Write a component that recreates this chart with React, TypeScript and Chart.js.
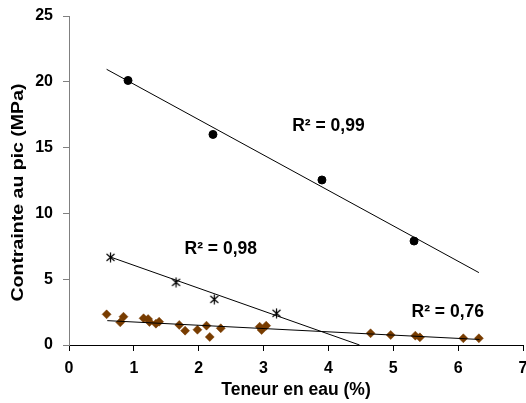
import React, { useEffect, useRef } from "react";
import { Chart, registerables } from "chart.js";
Chart.register(...registerables);

// Series: peak stress (MPa) vs water content (%)
const circleX = [0.91, 2.22, 3.9, 5.32];
const circleY = [20.1, 16.0, 12.54, 7.9];

const starX = [0.64, 1.65, 2.24, 3.2];
const starY = [6.66, 4.76, 3.47, 2.41];

const diamondX = [0.58, 0.79, 0.84, 1.15, 1.22, 1.24, 1.34, 1.39, 1.7, 1.79, 1.98, 2.12, 2.17, 2.34, 2.94, 2.97, 3.04, 4.65, 4.96, 5.34, 5.41, 6.08, 6.32];
const diamondY = [2.33, 1.72, 2.15, 2.03, 1.97, 1.75, 1.62, 1.77, 1.52, 1.09, 1.16, 1.47, 0.61, 1.27, 1.39, 1.14, 1.47, 0.89, 0.76, 0.71, 0.58, 0.51, 0.51];

// Trend lines (endpoints)
const trendCircleX = [0.58, 6.32];
const trendCircleY = [20.95, 5.5];
const trendStarX = [0.63, 4.48];
const trendStarY = [6.7, 0];
const trendDiamondX = [0.59, 6.33];
const trendDiamondY = [1.85, 0.42];

// R² annotations (data coordinates of text centre)
const r2Text = ["R² = 0,99", "R² = 0,98", "R² = 0,76"];
const r2X = [4.0, 2.34, 5.84];
const r2Y = [16.6, 7.3, 2.5];

const xMin = 0, xMax = 7, xStep = 1;
const yMin = 0, yMax = 25, yStep = 5;

const xTitle = "Teneur en eau (%)";
const yTitle = "Contrainte au pic (MPa)";

const FONT = "'Liberation Sans', Arial, sans-serif";
const BROWN = "#783c00";
const AREA = { left: 69, right: 523, top: 16, bottom: 345 };

const zip = (xs: number[], ys: number[]) => xs.map((x, i) => ({ x, y: ys[i] }));

function makeStar(): HTMLCanvasElement {
  const c = document.createElement("canvas");
  c.width = 11;
  c.height = 11;
  const g = c.getContext("2d")!;
  g.strokeStyle = "#000";
  g.lineWidth = 1.2;
  g.beginPath();
  g.moveTo(1.5, 2);
  g.lineTo(9.5, 9);
  g.moveTo(9.5, 2);
  g.lineTo(1.5, 9);
  g.moveTo(5.5, 0.5);
  g.lineTo(5.5, 10.5);
  g.stroke();
  return c;
}

const geomPlugin = {
  id: "geom",
  afterLayout(chart: any) {
    const xs = chart.scales.x;
    const ys = chart.scales.y;
    const { left: L, right: R, top: T, bottom: B } = AREA;
    xs.left = L; xs.right = R; xs.width = R - L;
    xs.top = B; xs.bottom = chart.height; xs.height = chart.height - B;
    ys.left = 0; ys.right = L; ys.width = L;
    ys.top = T; ys.bottom = B; ys.height = B - T;
    xs.configure();
    ys.configure();
    Object.assign(chart.chartArea, { left: L, right: R, top: T, bottom: B, width: R - L, height: B - T });
  },
};

const labelsPlugin = {
  id: "r2labels",
  afterDatasetsDraw(chart: any) {
    const { ctx, scales } = chart;
    ctx.save();
    ctx.font = `bold 17.5px ${FONT}`;
    ctx.fillStyle = "#000";
    ctx.textAlign = "center";
    ctx.textBaseline = "middle";
    r2Text.forEach((t, i) => {
      ctx.fillText(t, scales.x.getPixelForValue(r2X[i]), scales.y.getPixelForValue(r2Y[i]));
    });
    ctx.restore();
  },
  afterDraw(chart: any) {
    const { ctx, scales } = chart;
    const ys = scales.y;
    ctx.save();
    ctx.translate(19, (ys.top + ys.bottom) / 2 + 12);
    ctx.rotate(-Math.PI / 2);
    ctx.scale(1.22, 1);
    ctx.font = `bold 16px ${FONT}`;
    ctx.fillStyle = "#000";
    ctx.textAlign = "center";
    ctx.textBaseline = "middle";
    ctx.fillText(yTitle, 0, 0);
    ctx.restore();
  },
};

export default function App() {
  const ref = useRef<HTMLCanvasElement | null>(null);
  useEffect(() => {
    if (!ref.current) return;
    const star = makeStar();
    const trend = (xs: number[], ys: number[]) => ({
      type: "line" as const,
      data: zip(xs, ys),
      borderColor: "#000",
      borderWidth: 1,
      pointRadius: 0,
      showLine: true,
      fill: false,
    });
    const chart = new Chart(ref.current, {
      type: "scatter",
      data: {
        datasets: [
          trend(trendCircleX, trendCircleY),
          trend(trendStarX, trendStarY),
          trend(trendDiamondX, trendDiamondY),
          {
            data: zip(diamondX, diamondY),
            pointStyle: "rectRot",
            pointRadius: 4.5,
            backgroundColor: BROWN,
            borderColor: BROWN,
            borderWidth: 0.5,
          },
          {
            data: zip(circleX, circleY),
            pointStyle: "circle",
            pointRadius: 4,
            backgroundColor: "#000",
            borderColor: "#000",
          },
          {
            data: zip(starX, starY),
            pointStyle: star as any,
            pointRadius: 5,
          },
        ],
      },
      options: {
        animation: false,
        responsive: false,
        layout: { padding: { top: 16, right: 3, left: 0, bottom: 0 } },
        plugins: { legend: { display: false }, tooltip: { enabled: false } },
        scales: {
          x: {
            type: "linear",
            min: xMin,
            max: xMax,
            ticks: {
              stepSize: xStep,
              color: "#000",
              font: { family: FONT, size: 16, weight: "bold" },
              padding: 8,
            },
            grid: { display: true, drawOnChartArea: false, drawTicks: true, tickLength: 6, color: "#000" },
            border: { color: "#000", width: 1 },
            title: {
              display: true,
              text: xTitle,
              color: "#000",
              font: { family: FONT, size: 17.5, weight: "bold" },
              padding: { top: 2, bottom: 2 },
            },
          },
          y: {
            type: "linear",
            min: yMin,
            max: yMax,
            ticks: {
              stepSize: yStep,
              color: "#000",
              font: { family: FONT, size: 16, weight: "bold" },
              padding: 10,
            },
            grid: { display: true, drawOnChartArea: false, drawTicks: true, tickLength: 6, color: "#808080" },
            border: { color: "#808080", width: 1 },
            title: { display: false, text: yTitle },
          },
        },
      },
      plugins: [geomPlugin, labelsPlugin],
    });
    return () => chart.destroy();
  }, []);
  return (
    <div style={{ position: "fixed", left: 0, top: 0, width: 526, height: 403, background: "#fff" }}>
      <canvas ref={ref} width={526} height={403} style={{ width: 526, height: 403 }} />
    </div>
  );
}
